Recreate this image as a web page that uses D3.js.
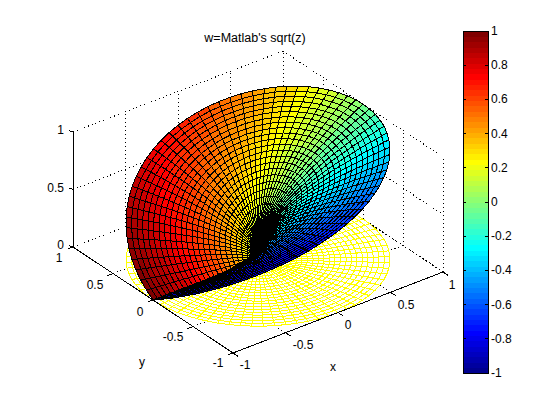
<!DOCTYPE html>
<html><head><meta charset="utf-8">
<script src="https://cdnjs.cloudflare.com/ajax/libs/d3/7.8.5/d3.min.js"></script>
<style>html,body{margin:0;padding:0;background:#fff}svg{display:block}text{font-family:"Liberation Sans",Arial,sans-serif;fill:#000}</style>
</head><body><svg id="c" width="560" height="420"></svg>
<script>
const titleText = "w=Matlab's sqrt(z)";
const rimX = [-1,-.996,-.985,-.966,-.94,-.906,-.866,-.819,-.766,-.707,-.643,-.574,-.5,-.423,-.342,-.259,-.174,-.087,0,.087,.174,.259,.342,.423,.5,.574,.643,.707,.766,.819,.866,.906,.94,.966,.985,.996,1,.996,.985,.966,.94,.906,.866,.819,.766,.707,.643,.574,.5,.423,.342,.259,.174,.087,0,-.087,-.174,-.259,-.342,-.423,-.5,-.574,-.643,-.707,-.766,-.819,-.866,-.906,-.94,-.966,-.985,-.996,-1];
const rimY = [0,-.087,-.174,-.259,-.342,-.423,-.5,-.574,-.643,-.707,-.766,-.819,-.866,-.906,-.94,-.966,-.985,-.996,-1,-.996,-.985,-.966,-.94,-.906,-.866,-.819,-.766,-.707,-.643,-.574,-.5,-.423,-.342,-.259,-.174,-.087,0,.087,.174,.259,.342,.423,.5,.574,.643,.707,.766,.819,.866,.906,.94,.966,.985,.996,1,.996,.985,.966,.94,.906,.866,.819,.766,.707,.643,.574,.5,.423,.342,.259,.174,.087,0];
const rimHeight = [0,.044,.087,.131,.174,.216,.259,.301,.342,.383,.423,.462,.5,.537,.574,.609,.643,.676,.707,.737,.766,.793,.819,.843,.866,.887,.906,.924,.94,.954,.966,.976,.985,.991,.996,.999,1,.999,.996,.991,.985,.976,.966,.954,.94,.924,.906,.887,.866,.843,.819,.793,.766,.737,.707,.676,.643,.609,.574,.537,.5,.462,.423,.383,.342,.301,.259,.216,.174,.131,.087,.044,0];
const rimColor = [-1,-.999,-.996,-.991,-.985,-.976,-.966,-.954,-.94,-.924,-.906,-.887,-.866,-.843,-.819,-.793,-.766,-.737,-.707,-.676,-.643,-.609,-.574,-.537,-.5,-.462,-.423,-.383,-.342,-.301,-.259,-.216,-.174,-.131,-.087,-.044,0,.044,.087,.131,.174,.216,.259,.301,.342,.383,.423,.462,.5,.537,.574,.609,.643,.676,.707,.737,.766,.793,.819,.843,.866,.887,.906,.924,.94,.954,.966,.976,.985,.991,.996,.999,1];
const ringR = [0,.042,.083,.125,.167,.208,.25,.292,.333,.375,.417,.458,.5,.542,.583,.625,.667,.708,.75,.792,.833,.875,.917,.958,1];
const ringW = [0,.204,.289,.354,.408,.456,.5,.54,.577,.612,.645,.677,.707,.736,.764,.791,.816,.842,.866,.89,.913,.935,.957,.979,1];
const xTicks = [-1,-.5,0,.5,1];
const yTicks = [-1,-.5,0,.5,1];
const zTicks = [0,.5,1];
const barTicks = [-1,-.8,-.6,-.4,-.2,0,.2,.4,.6,.8,1];
const jetPos = [0,7/63,23/63,39/63,55/63,1];
const jetCol = ["#00008f","#0000ff","#00ffff","#ffff00","#ff0000","#800000"];
const xLabelAt = [[245,365],[303,345],[348,325],[406,305],[452,285]];
const yLabelAt = [[218,363],[173,337],[140,312],[95,285],[59,258]];

const svg = d3.select("#c");
const ox = 233, oy = 353;
const xToH = d3.scaleLinear().domain([-1,1]).range([0,210]);
const xToV = d3.scaleLinear().domain([-1,1]).range([0,-81]);
const yToH = d3.scaleLinear().domain([-1,1]).range([0,-160]);
const yToV = d3.scaleLinear().domain([-1,1]).range([0,-106]);
const zToV = d3.scaleLinear().domain([0,1]).range([0,-115]);
const P = (x,y,z) => [ox+xToH(x)+yToH(y), oy+xToV(x)+yToV(y)+zToV(z)];
const depth = (x,y,z) => -.527*x -.687*y +.503*z;
const jet = d3.scaleLinear().domain(jetPos).range(jetCol).interpolate(d3.interpolateRgb);
const levels = d3.range(64).map(i => jet(i/63));
const colour = d3.scaleQuantize().domain([-1,1]).range(levels);

function seg(g,a,b,cls){ g.append("line").attr("x1",a[0]).attr("y1",a[1]).attr("x2",b[0]).attr("y2",b[1]).attr("class",cls)
  .attr("stroke","#000").attr("stroke-width",1).attr("shape-rendering","crispEdges")
  .attr("stroke-dasharray",cls==="grid"?"1 3":null); }

const grid = svg.append("g");
xTicks.forEach(t=>{ seg(grid,P(t,1,0),P(t,1,1),"grid"); seg(grid,P(t,-1,0),P(t,1,0),"grid"); });
yTicks.forEach(t=>{ seg(grid,P(1,t,0),P(1,t,1),"grid"); seg(grid,P(-1,t,0),P(1,t,0),"grid"); });
zTicks.forEach(t=>{ seg(grid,P(-1,1,t),P(1,1,t),"grid"); seg(grid,P(1,1,t),P(1,-1,t),"grid"); });

const cells = [];
d3.range(ringR.length-1).forEach(i=>d3.range(rimX.length-1).forEach(j=>{
  const idx=[[i,j],[i+1,j],[i+1,j+1],[i,j+1]];
  const v=idx.map(([a,b])=>({x:ringR[a]*rimX[b],y:ringR[a]*rimY[b],z:ringW[a]*rimHeight[b]}));
  cells.push({v,c:ringW[i]*rimColor[j],d:d3.mean(v,p=>depth(p.x,p.y,p.z))});
}));
const pts=(v,fz)=>v.map(p=>P(p.x,p.y,fz?0:p.z).map(n=>n.toFixed(1)).join(",")).join(" ");
svg.append("g").selectAll("polygon").data(cells).join("polygon")
  .attr("points",d=>pts(d.v,true)).attr("fill","#fff").attr("stroke","#ffff00")
  .attr("shape-rendering","crispEdges");

const ax = svg.append("g");
seg(ax,P(-1,1,0),P(-1,1,1),"axis");
seg(ax,P(-1,1,0),P(-1,-1,0),"axis");
seg(ax,P(-1,-1,0),P(1,-1,0),"axis");
xTicks.forEach(t=>{const a=P(t,-1,0);seg(ax,a,[a[0]+5,a[1]+3.3],"axis");});
yTicks.forEach(t=>{const a=P(-1,t,0);seg(ax,a,[a[0]-5.5,a[1]+2.1],"axis");});
zTicks.forEach(t=>{const a=P(-1,1,t);seg(ax,a,[a[0]-4,a[1]-1.5],"axis");});

svg.append("g").selectAll("polygon").data(cells.slice().sort((a,b)=>a.d-b.d)).join("polygon")
  .attr("points",d=>pts(d.v,false)).attr("fill",d=>colour(d.c)).attr("stroke","#000")
  .attr("shape-rendering","crispEdges");

const T=(s,x,y,a,fs)=>svg.append("text").text(s).attr("x",x).attr("y",y).attr("text-anchor",a||"middle").attr("font-size",fs||12).attr("dominant-baseline","central");
const fmt=t=>String(t);
xTicks.forEach((t,i)=>T(fmt(t),xLabelAt[i][0],xLabelAt[i][1]));
yTicks.forEach((t,i)=>T(fmt(t),yLabelAt[i][0],yLabelAt[i][1]));
zTicks.forEach(t=>{const a=P(-1,1,t);T(fmt(t),64,a[1]-2,"end");});
T("x",333,367); T("y",142,362);
T(titleText,255,38,"middle",12.5);

const bx=463,bw=25,by=31,bh=342;
const barY=d3.scaleLinear().domain([-1,1]).range([by+bh,by]);
svg.append("g").selectAll("rect").data(levels).join("rect")
  .attr("x",bx).attr("width",bw)
  .attr("y",(d,i)=>barY(-1+(i+1)/32)).attr("height",(d,i)=>barY(-1+i/32)-barY(-1+(i+1)/32)+.5)
  .attr("fill",d=>d).attr("shape-rendering","crispEdges");
svg.append("rect").attr("x",bx).attr("y",by).attr("width",bw).attr("height",bh).attr("fill","none").attr("stroke","#000").attr("shape-rendering","crispEdges");
barTicks.forEach(t=>{const y=barY(t);
  seg(svg,[bx,y],[bx+3,y],"axis"); seg(svg,[bx+bw-3,y],[bx+bw,y],"axis");
  T(fmt(t),bx+bw+3,y,"start");});
</script></body></html>
